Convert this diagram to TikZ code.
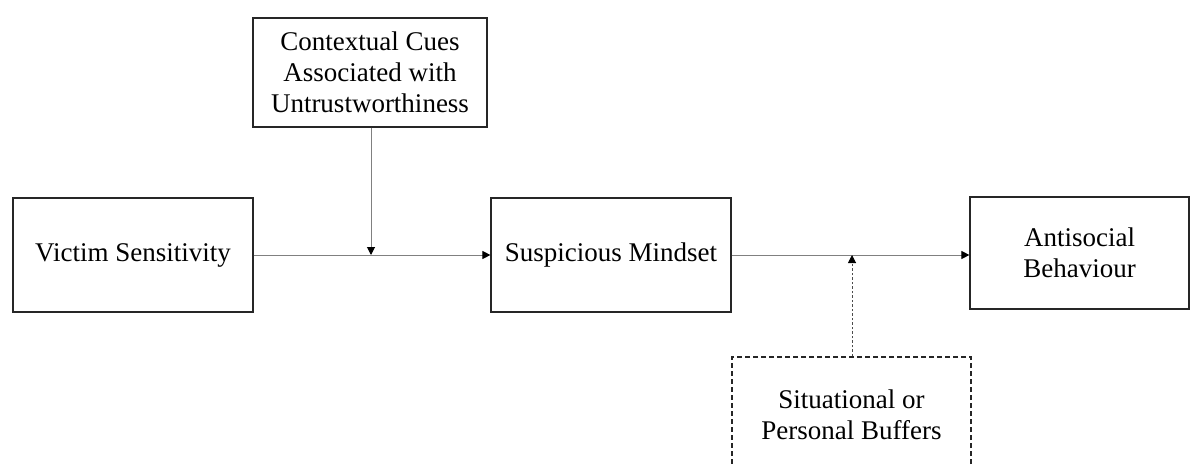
\documentclass[tikz,border=0pt]{standalone}
\usepackage{fontspec}
\setmainfont{Liberation Serif}
\usetikzlibrary{arrows.meta}
\begin{document}
\begin{tikzpicture}[x=1pt,y=-1pt,
  box/.style={draw=black!85,line width=1.2pt,align=center,inner sep=0pt,
    font=\fontsize{27}{31}\selectfont},
  link/.style={draw=black!50,line width=1pt,
    -{Triangle[length=8pt,width=8pt,black]}},
  buffer/.style={draw=black!70,line width=1pt,dash pattern=on 2.5pt off 2pt,
    -{Triangle[length=8pt,width=8pt,black]}}]
\clip (0,0) rectangle (1199,465);
\fill[white] (0,0) rectangle (1199,465);
\node[box,minimum width=240pt,minimum height=114pt] (vs) at (133,255) {Victim Sensitivity};
\node[box,minimum width=234pt,minimum height=109pt] (cc) at (370,72.5) {Contextual Cues\\Associated with\\Untrustworthiness};
\node[box,minimum width=240pt,minimum height=114pt] (sm) at (611,255) {Suspicious Mindset};
\node[box,minimum width=219pt,minimum height=112pt] (ab) at (1079.5,253) {Antisocial\\Behaviour};
\node[box,dash pattern=on 5pt off 3pt,minimum width=239pt,minimum height=116pt] (sb) at (851.5,415) {Situational or\\Personal Buffers};
\coordinate (m1) at (371,255);
\coordinate (m2) at (852,255);
\draw[link] (vs.east |- m1) -- (sm.west |- m1);
\draw[link] (cc.south -| m1) -- (m1);
\draw[link] (sm.east |- m2) -- (ab.west |- m2);
\draw[buffer] (sb.north -| m2) -- (m2);
\end{tikzpicture}
\end{document}
